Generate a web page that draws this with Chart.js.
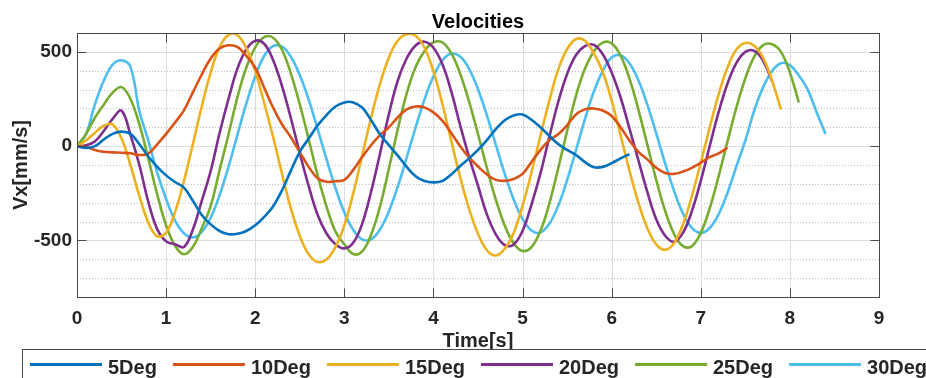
<!DOCTYPE html>
<html>
<head>
<meta charset="utf-8">
<script src="https://cdn.jsdelivr.net/npm/chart.js@4.4.1/dist/chart.umd.min.js"></script>
<style>
  html, body { margin: 0; padding: 0; background: #fff; }
  #wrap { width: 926px; height: 378px; }
</style>
</head>
<body>
<div id="wrap"><canvas id="velChart" width="926" height="378"></canvas></div>
<script>
// sample times [s], 0.1 s apart; each series uses as many as it has values
const time = [0.0, 0.1, 0.2, 0.3, 0.4, 0.5, 0.6, 0.7, 0.8, 0.9,
  1.0, 1.1, 1.2, 1.3, 1.4, 1.5, 1.6, 1.7, 1.8, 1.9,
  2.0, 2.1, 2.2, 2.3, 2.4, 2.5, 2.6, 2.7, 2.8, 2.9,
  3.0, 3.1, 3.2, 3.3, 3.4, 3.5, 3.6, 3.7, 3.8, 3.9,
  4.0, 4.1, 4.2, 4.3, 4.4, 4.5, 4.6, 4.7, 4.8, 4.9,
  5.0, 5.1, 5.2, 5.3, 5.4, 5.5, 5.6, 5.7, 5.8, 5.9,
  6.0, 6.1, 6.2, 6.3, 6.4, 6.5, 6.6, 6.7, 6.8, 6.9,
  7.0, 7.1, 7.2, 7.3, 7.4, 7.5, 7.6, 7.7, 7.8, 7.9,
  8.0, 8.1, 8.2, 8.3, 8.4];

const seriesNames = ['5Deg', '10Deg', '15Deg', '20Deg', '25Deg', '30Deg'];

// Vx [mm/s]
const vx5 = [0, -10, 0, 35, 65, 77, 65, 10, -55, -110,
  -155, -190, -220, -290, -365, -415, -450, -467, -465, -450,
  -420, -375, -320, -235, -130, -30, 40, 110, 165, 210,
  232, 232, 205, 138, 63, 5, -50, -110, -160, -185,
  -192, -185, -150, -105, -65, -20, 32, 90, 137, 163,
  168, 140, 100, 55, 11, -20, -47, -85, -112, -110,
  -90, -65, -42];

const vx10 = [0, -5, -20, -30, -33, -35, -38, -47, -40, 10,
  65, 125, 190, 285, 380, 465, 518, 535, 526, 479,
  416, 311, 205, 116, 47, -32, -110, -170, -189, -186,
  -179, -126, -58, 5, 58, 100, 153, 195, 210, 205,
  179, 135, 70, 0, -60, -108, -150, -179, -184, -174,
  -147, -84, -21, 32, 63, 111, 168, 195, 200, 189,
  160, 100, 30, -30, -70, -115, -142, -147, -135, -115,
  -88, -58, -38, -8];

const vx15 = [0, 30, 70, 108, 115, 40, -100, -265, -405, -478,
  -458, -350, -185, 10, 210, 390, 525, 590, 588, 520,
  397, 230, 50, -145, -330, -476, -574, -614, -601, -535,
  -420, -250, -50, 150, 330, 470, 560, 594, 585, 522,
  396, 225, 28, -165, -333, -465, -552, -580, -544, -460,
  -316, -140, 53, 240, 406, 514, 568, 559, 492, 393,
  242, 57, -130, -300, -435, -521, -550, -515, -415, -265,
  -88, 98, 275, 417, 512, 547, 532, 468, 347, 195];

const vx20 = [0, 5, 25, 80, 145, 188, 60, -100, -295, -440,
  -505, -520, -535, -442, -290, -132, 70, 250, 411, 513,
  559, 543, 457, 320, 148, -37, -212, -364, -463, -520,
  -542, -512, -412, -242, -40, 170, 348, 466, 534, 554,
  522, 435, 290, 110, -58, -210, -362, -468, -525, -521,
  -449, -310, -146, 48, 234, 383, 483, 531, 537, 487,
  390, 258, 93, -75, -243, -388, -475, -507, -460, -345,
  -184, 0, 180, 332, 442, 500, 505, 453, 345];

const vx25 = [0, 63, 150, 220, 284, 313, 250, 115, -65, -255,
  -420, -528, -573, -535, -435, -318, -127, 62, 259, 417,
  524, 578, 575, 511, 385, 222, 36, -154, -320, -453,
  -520, -572, -558, -470, -320, -120, 90, 280, 420, 505,
  550, 550, 493, 384, 236, 63, -116, -284, -421, -515,
  -556, -535, -450, -305, -117, 80, 268, 410, 502, 549,
  545, 480, 358, 194, 8, -179, -343, -465, -530, -530,
  -460, -330, -160, 25, 205, 360, 475, 536, 540, 500,
  390, 232];

const vx30 = [0, 63, 220, 347, 432, 455, 420, 185, 30, -140,
  -280, -395, -462, -484, -455, -380, -260, -110, 60, 225,
  370, 478, 530, 528, 474, 377, 246, 91, -69, -221,
  -351, -444, -494, -494, -442, -346, -214, -60, 100, 248,
  371, 454, 491, 475, 410, 302, 163, 8, -147, -282,
  -387, -447, -458, -412, -316, -180, -21, 143, 290, 399,
  470, 482, 439, 349, 220, 68, -91, -237, -357, -433,
  -460, -434, -361, -247, -107, 30, 189, 313, 399, 440,
  430, 375, 300, 180, 65];

const xTicks = [0, 1, 2, 3, 4, 5, 6, 7, 8, 9];
const yTicks = [-500, 0, 500];
const yMinor = [-700, -600, -400, -300, -200, -100, 100, 200, 300, 400];

const allSeries = [vx5, vx10, vx15, vx20, vx25, vx30];
const lineColors = ['#0072BD', '#D95319', '#EDB120', '#7E2F8E', '#77AC30', '#4DBEEE'];

const FONT = '"Liberation Sans", Arial, Helvetica, sans-serif';
const TEXT = '#262626';

const datasets = allSeries.map((vals, i) => ({
  label: seriesNames[i],
  data: vals.map((v, k) => ({ x: time[k], y: v })),
  borderColor: lineColors[i],
  borderWidth: 2.6,
  pointRadius: 0,
  tension: 0.4,
  fill: false
}));

const matlabAxes = {
  id: 'matlabAxes',
  beforeDatasetsDraw(chart) {
    const { ctx, chartArea: a, scales: { x, y } } = chart;
    ctx.save();
    ctx.lineWidth = 1;
    // dotted minor grid
    ctx.strokeStyle = '#bdbdbd';
    ctx.setLineDash([1, 2]);
    yMinor.forEach(v => {
      const py = Math.round(y.getPixelForValue(v)) + 0.5;
      ctx.beginPath(); ctx.moveTo(a.left, py); ctx.lineTo(a.right, py); ctx.stroke();
    });
    ctx.setLineDash([]);
    // major grid
    ctx.strokeStyle = '#dcdcdc';
    xTicks.forEach(v => {
      const px = Math.round(x.getPixelForValue(v)) + 0.5;
      ctx.beginPath(); ctx.moveTo(px, a.top); ctx.lineTo(px, a.bottom); ctx.stroke();
    });
    yTicks.forEach(v => {
      const py = Math.round(y.getPixelForValue(v)) + 0.5;
      ctx.beginPath(); ctx.moveTo(a.left, py); ctx.lineTo(a.right, py); ctx.stroke();
    });
    ctx.restore();
  },
  afterDatasetsDraw(chart) {
    const { ctx, chartArea: a, scales: { x, y } } = chart;
    const L = Math.round(a.left) + 0.5, R = Math.round(a.right) + 0.5;
    const T = Math.round(a.top) + 0.5, B = Math.round(a.bottom) + 0.5;
    ctx.save();
    ctx.strokeStyle = '#4a4a4a';
    ctx.lineWidth = 1;
    ctx.strokeRect(L, T, R - L, B - T);
    const tl = 9;
    ctx.beginPath();
    xTicks.forEach(v => {
      const px = Math.round(x.getPixelForValue(v)) + 0.5;
      ctx.moveTo(px, B); ctx.lineTo(px, B - tl);
      ctx.moveTo(px, T); ctx.lineTo(px, T + tl);
    });
    yTicks.forEach(v => {
      const py = Math.round(y.getPixelForValue(v)) + 0.5;
      ctx.moveTo(L, py); ctx.lineTo(L + tl, py);
      ctx.moveTo(R, py); ctx.lineTo(R - tl, py);
    });
    ctx.stroke();
    ctx.restore();
  },
  afterDraw(chart) {
    const { ctx, chartArea: a } = chart;
    const cx = (a.left + a.right) / 2;
    ctx.save();
    ctx.fillStyle = '#000';
    ctx.textAlign = 'center';
    ctx.textBaseline = 'alphabetic';
    ctx.font = 'bold 20px ' + FONT;
    ctx.fillText('Velocities', cx, 28);

    ctx.fillStyle = TEXT;
    ctx.font = 'bold 20px ' + FONT;
    ctx.fillText('Time[s]', cx, 347);

    ctx.save();
    ctx.translate(27, (a.top + a.bottom) / 2);
    ctx.rotate(-Math.PI / 2);
    ctx.fillText('Vx[mm/s]', 0, 0);
    ctx.restore();

    // legend box
    ctx.fillStyle = '#fff';
    ctx.fillRect(22, 349, 1000, 60);
    ctx.strokeStyle = '#4a4a4a';
    ctx.lineWidth = 1;
    ctx.strokeRect(22.5, 349.5, 1000, 60);

    ctx.font = 'bold 20px ' + FONT;
    ctx.textAlign = 'left';
    let lx = 30;
    chart.data.datasets.forEach(ds => {
      ctx.strokeStyle = ds.borderColor;
      ctx.lineWidth = 3;
      ctx.beginPath(); ctx.moveTo(lx, 364.5); ctx.lineTo(lx + 72, 364.5); ctx.stroke();
      ctx.fillStyle = TEXT;
      ctx.fillText(ds.label, lx + 78, 374);
      lx += 78 + ctx.measureText(ds.label).width + 16;
    });
    ctx.restore();
  }
};

new Chart(document.getElementById('velChart'), {
  type: 'line',
  data: { datasets },
  options: {
    responsive: false,
    animation: false,
    devicePixelRatio: 1,
    layout: { padding: { top: 33, right: 47, left: 0, bottom: 0 } },
    plugins: {
      legend: { display: false },
      title: { display: false },
      tooltip: { enabled: false }
    },
    scales: {
      x: {
        type: 'linear',
        min: 0, max: 9,
        afterBuildTicks: s => { s.ticks = xTicks.map(v => ({ value: v })); },
        afterFit: s => { s.height = 81; },
        grid: { display: false, drawTicks: false },
        border: { display: false },
        ticks: { padding: 10, color: TEXT, font: { family: FONT, size: 19, weight: 'bold' }, maxRotation: 0 }
      },
      y: {
        min: -800, max: 600,
        afterBuildTicks: s => { s.ticks = yTicks.map(v => ({ value: v })); },
        afterFit: s => { s.width = 77; },
        grid: { display: false, drawTicks: false },
        border: { display: false },
        ticks: { padding: 5, color: TEXT, font: { family: FONT, size: 19, weight: 'bold' } }
      }
    }
  },
  plugins: [matlabAxes]
});
</script>
</body>
</html>
